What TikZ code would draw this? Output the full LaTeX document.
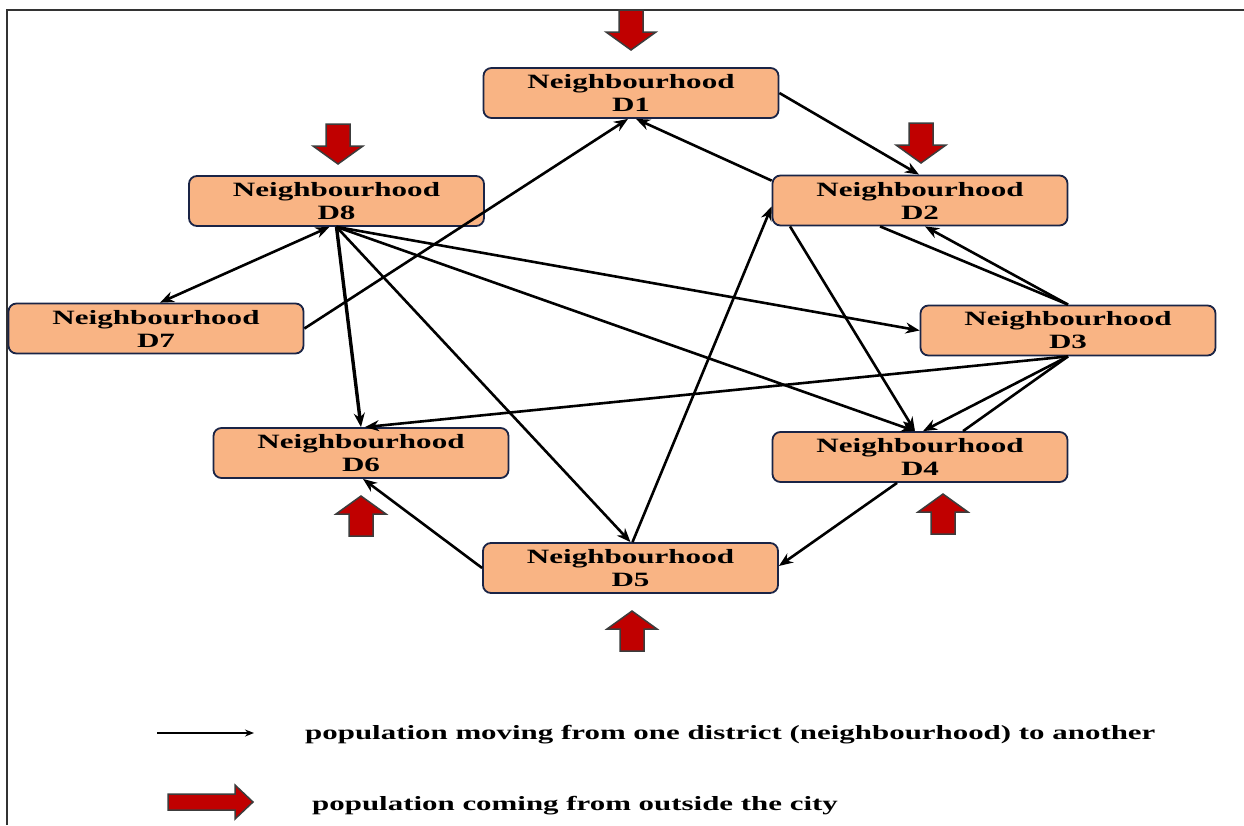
\documentclass[tikz,border=0pt]{standalone}
\usepackage{fontspec}
\usetikzlibrary{arrows.meta}
\newfontfamily\lblfont[FakeStretch=1.53]{Liberation Serif}
\definecolor{boxfill}{RGB}{249,180,132}
\definecolor{boxline}{RGB}{26,36,70}
\definecolor{inred}{RGB}{192,0,0}
\definecolor{inedge}{RGB}{60,60,60}
\tikzset{
  district/.style={draw=boxline, line width=1.8pt, fill=boxfill, rounded corners=8pt,
    minimum width=295pt, minimum height=50pt, inner sep=0pt, align=center,
    font=\lblfont\bfseries\fontsize{20.3}{23}\selectfont},
  flow/.style={line width=2.6pt, draw=black, -{Stealth[length=14pt,width=11pt]}},
  link/.style={line width=2.6pt, draw=black},
  inflowfill/.style={fill=inred, draw=inedge, line width=1.5pt, line join=miter},
  lgd/.style={inner sep=0pt, font=\lblfont\bfseries\fontsize{20.2}{23}\selectfont},
  inflow/.pic={\path[inflowfill] (0,-12) -- (22,-12) -- (22,-25) -- (40,0) -- (22,25) -- (22,12) -- (0,12) -- cycle;},
  inflowlong/.pic={\path[inflowfill] (0,-8) -- (67,-8) -- (67,-17) -- (85,0) -- (67,17) -- (67,8) -- (0,8) -- cycle;}
}
\begin{document}
\begin{tikzpicture}[x=1pt, y=-1pt]
\useasboundingbox (0,0) rectangle (1244,825);
% frame
\draw[line width=2pt, draw=black!80] (7,825) -- (7,10) -- (1244,10);

% districts
\node[district] (d1) at (631,93)    {Neighbourhood\\D1};
\node[district] (d2) at (920,200.5) {Neighbourhood\\D2};
\node[district] (d3) at (1068,330.5){Neighbourhood\\D3};
\node[district] (d4) at (920,457)   {Neighbourhood\\D4};
\node[district] (d5) at (630.5,568) {Neighbourhood\\D5};
\node[district] (d6) at (361,453)   {Neighbourhood\\D6};
\node[district] (d7) at (156,328.5) {Neighbourhood\\D7};
\node[district] (d8) at (336.5,201) {Neighbourhood\\D8};

% movements between districts
\draw[flow] (d1.east) -- ([xshift=-1pt]d2.north);
\draw[flow] ([yshift=-6pt]d2.north west) -- ([xshift=5pt]d1.south);
\draw[flow] (d7.east) -- ([xshift=-3pt]d1.south);
\draw[link, {Stealth[length=14pt,width=11pt]}-{Stealth[length=14pt,width=11pt]}]
  ([xshift=-7pt]d8.south) -- ([xshift=4pt]d7.north);
\draw[flow, line width=3.4pt] (d8.south) -- (d6.north);
\draw[flow] (d8.south) -- (d5.north);
\draw[flow] (d8.south) -- (d3.west);
\draw[flow] (d8.south) -- ([xshift=-5pt]d4.north);
\draw[flow] ([xshift=2pt]d5.north) -- ([yshift=-6pt]d2.west);
\draw[flow] ([xshift=-130pt]d2.south) -- ([xshift=-5pt]d4.north);
\draw[flow] (d3.north) -- ([xshift=5pt]d2.south);
\draw[link] ([xshift=-40pt]d2.south) -- (d3.north);
\draw[flow] (d3.south) -- ([xshift=4pt]d6.north);
\draw[flow] (d3.south) -- ([xshift=3pt]d4.north);
\draw[link] (d3.south) -- ([xshift=43pt]d4.north);
\draw[flow] ([xshift=-23pt]d4.south) -- ([yshift=2pt]d5.east);
\draw[flow] (d5.west) -- ([xshift=2pt]d6.south);

% population arriving from outside
\pic[rotate=-90] at (631,10)  {inflow};
\pic[rotate=-90] at (338,124) {inflow};
\pic[rotate=-90] at (921,123) {inflow};
\pic[rotate=90]  at (361,536) {inflow};
\pic[rotate=90]  at (943,534) {inflow};
\pic[rotate=90]  at (632,651) {inflow};

% legend
\coordinate (la) at (157,733);
\coordinate (lb) at (254,733);
\draw[line width=1.8pt, -{Stealth[length=9pt,width=7pt]}] (la) -- (lb);
\node[lgd, anchor=base west] (t1) at (305,739) {population moving from one district (neighbourhood) to another};
\pic at (168,802) {inflowlong};
\node[lgd, anchor=base west] (t2) at (312,810) {population coming from outside the city};
\end{tikzpicture}
\end{document}
